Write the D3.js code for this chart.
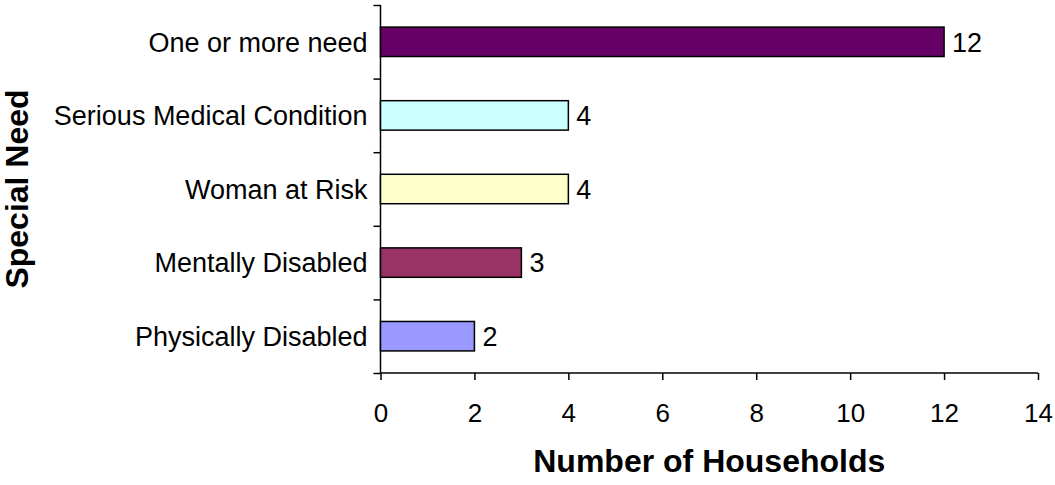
<!DOCTYPE html>
<meta charset="utf-8">
<style>
  html, body { margin: 0; padding: 0; background: #fff; overflow: hidden; }
  body { font-family: "Liberation Sans", Arial, sans-serif; }
  .axis path, .axis line { stroke: #000; stroke-width: 1.5px; fill: none; }
  .axis text { font-family: "Liberation Sans", Arial, sans-serif; font-size: 26px; fill: #000; }
  .ylab text { font-size: 27px; }
  .title { font-family: "Liberation Sans", Arial, sans-serif; font-weight: bold; font-size: 32px; fill: #000; }
  .val { font-family: "Liberation Sans", Arial, sans-serif; font-size: 27px; fill: #000; }
</style>
<svg></svg>
<script src="https://d3js.org/d3.v7.min.js"></script>
<script>
// data, top to bottom
var categories = ["One or more need", "Serious Medical Condition", "Woman at Risk", "Mentally Disabled", "Physically Disabled"];
var counts = [12, 4, 4, 3, 2];
var colors = ["#660066", "#CCFFFF", "#FFFFCC", "#993366", "#9999FF"];
var xTicks = [0, 2, 4, 6, 8, 10, 12, 14];

var W = 1055, H = 485;
var margin = {top: 5, right: 17, bottom: 112, left: 380.5};
var width = W - margin.left - margin.right,
    height = H - margin.top - margin.bottom;

var svg = d3.select("svg").attr("width", W).attr("height", H);
var g = svg.append("g").attr("transform", "translate(" + margin.left + "," + margin.top + ")");

var x = d3.scaleLinear().domain([0, 14]).range([0, width]);
var y = d3.scaleBand().domain(categories).range([0, height]).paddingInner(0.6).paddingOuter(0.3);
var yEdge = d3.scaleLinear().domain([0, categories.length]).range([0, height]);

// y tick marks at category boundaries
g.append("g").attr("class", "axis")
  .call(d3.axisLeft(yEdge).tickValues(d3.range(categories.length + 1)).tickFormat("").tickSize(7).tickSizeOuter(0))
  .select(".domain").remove();

// y labels
g.append("g").attr("class", "axis ylab")
  .call(d3.axisLeft(y).tickSize(0).tickPadding(13))
  .call(function(a) { a.select(".domain").attr("d", "M0,0V" + height); })
  .selectAll("text").attr("dy", "0.36em");

// x axis
g.append("g").attr("class", "axis")
  .attr("transform", "translate(0," + height + ")")
  .call(d3.axisBottom(x).tickValues(xTicks).tickSize(7).tickSizeOuter(0).tickPadding(24))
  .call(function(a) { a.select(".domain").attr("d", "M0,0H" + width); });

// bars
g.selectAll(".bar").data(categories).enter().append("rect")
  .attr("class", "bar")
  .attr("x", x(0))
  .attr("y", function(d) { return y(d); })
  .attr("width", function(d, i) { return x(counts[i]) - x(0); })
  .attr("height", y.bandwidth())
  .attr("fill", function(d, i) { return colors[i]; })
  .attr("stroke", "#000")
  .attr("stroke-width", 1.5);

// value labels
g.selectAll(".val").data(categories).enter().append("text")
  .attr("class", "val")
  .attr("x", function(d, i) { return x(counts[i]) + 8; })
  .attr("y", function(d) { return y(d) + y.bandwidth() / 2; })
  .attr("dy", "0.36em")
  .text(function(d, i) { return counts[i]; });

// axis titles
g.append("text").attr("class", "title")
  .attr("x", width / 2).attr("y", height + 99)
  .attr("text-anchor", "middle")
  .text("Number of Households");

svg.append("text").attr("class", "title")
  .attr("transform", "translate(28," + (margin.top + height / 2) + ") rotate(-90)")
  .attr("text-anchor", "middle")
  .text("Special Need");
</script>
